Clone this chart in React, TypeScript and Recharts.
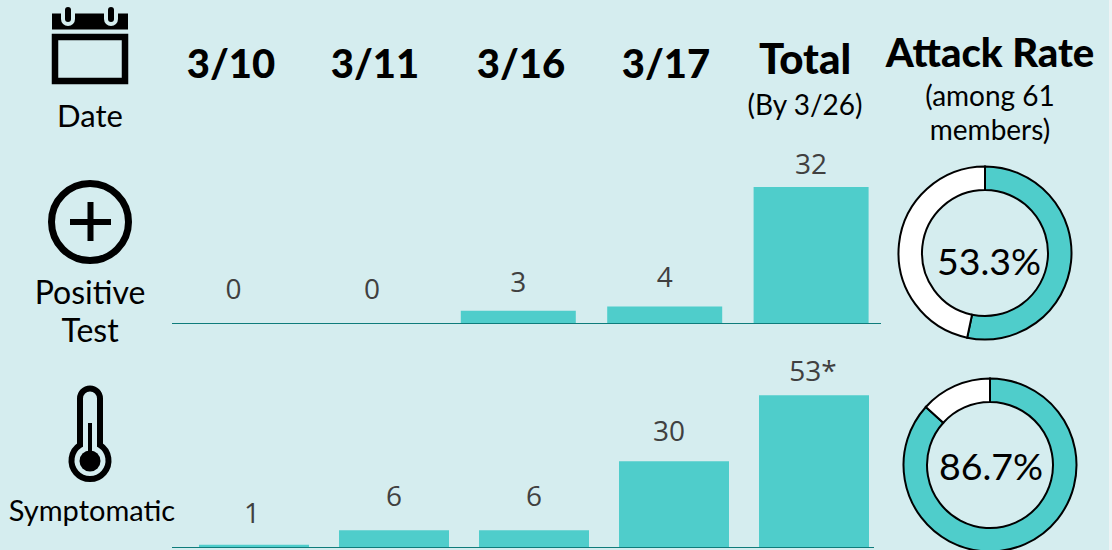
import React from 'react';
import { BarChart, Bar, XAxis, YAxis, LabelList, PieChart, Pie, Cell } from 'recharts';

const dates = ['3/10', '3/11', '3/16', '3/17', 'Total'];
const positiveValues = [0, 0, 3, 4, 32];
const positiveLabels = ['0', '0', '3', '4', '32'];
const symptomValues = [1, 6, 6, 30, 53];
const symptomLabels = ['1', '6', '6', '30', '53*'];
const positiveRate = [53.3, 46.7];
const symptomRate = [86.7, 13.3];

const TEAL = '#4FCDCB';
const BG = '#D5EDEF';
const HEAD_FONT = 'Lato, sans-serif';
const NUM_FONT = '"Open Sans", sans-serif';

const headerX = [231, 375, 521, 666, 805];
const positiveNudge = [[8, 35], [0, 35], [0, 30], [0, 30], [0, 24]];
const symptomNudge = [[-2, 33], [0, 35], [0, 35], [-5, 31], [-1, 25]];

const toRows = (values: number[]) => dates.map((name, i) => ({ name, value: values[i] }));

const makeLabel = (labels: string[], nudge: number[][]) => (props: any) => {
  const { x, y, width, index } = props;
  return (
    <text
      x={x + width / 2 + nudge[index][0]}
      y={y - nudge[index][1]}
      textAnchor="middle"
      dominantBaseline="central"
      fontFamily={NUM_FONT}
      fontSize={28}
      fill="#404040"
    >
      {labels[index]}
    </text>
  );
};

const Txt: React.FC<{ x: number; y: number; size: number; weight?: number; children: React.ReactNode }> = ({ x, y, size, weight = 400, children }) => (
  <div
    style={{
      position: 'absolute',
      left: x - 150,
      top: y - 30,
      width: 300,
      height: 60,
      lineHeight: '60px',
      textAlign: 'center',
      fontFamily: HEAD_FONT,
      fontSize: size,
      fontWeight: weight,
      color: '#000',
      whiteSpace: 'nowrap',
    }}
  >
    {children}
  </div>
);

const Icons = () => (
  <svg width={180} height={550} style={{ position: 'absolute', left: 0, top: 0 }}>
    {/* calendar */}
    <path d="M52 13.5H128V29.5H52Z" fill="#000" />
    <rect x={55} y={37} width={70} height={44} fill="none" stroke="#000" strokeWidth={6.5} />
    <rect x={61} y={4} width={14} height={22} rx={7} fill={BG} />
    <rect x={104} y={4} width={14} height={22} rx={7} fill={BG} />
    <rect x={65} y={7} width={6} height={15} rx={3} fill="#000" />
    <rect x={108} y={7} width={6} height={15} rx={3} fill="#000" />
    {/* plus */}
    <circle cx={90} cy={222} r={38.5} fill="none" stroke="#000" strokeWidth={7} />
    <path d="M70 222H111M90.5 202V241" stroke="#000" strokeWidth={6} fill="none" />
    {/* thermometer */}
    <path
      d="M80 445V398.5A10 10 0 0 1 100 398.5V445A18.5 18.5 0 1 1 80 445Z"
      fill="none"
      stroke="#000"
      strokeWidth={6}
    />
    <circle cx={90} cy={461} r={10.5} fill="#000" />
    <rect x={88} y={423} width={4} height={30} fill="#000" />
  </svg>
);

const Donut: React.FC<{ left: number; top: number; values: number[]; colors: string[]; text: string; textX: number; textY: number }> = ({ left, top, values, colors, text, textX, textY }) => (
  <div style={{ position: 'absolute', left, top }}>
    <PieChart width={190} height={195} margin={{ top: 0, right: 0, bottom: 0, left: 0 }}>
      <Pie
        data={values.map((value, i) => ({ name: String(i), value }))}
        dataKey="value"
        cx={95}
        cy={98}
        innerRadius={63}
        outerRadius={86.5}
        startAngle={90}
        endAngle={-270}
        stroke="#000"
        strokeWidth={2}
        isAnimationActive={false}
      >
        {values.map((_, i) => (
          <Cell key={i} fill={colors[i]} />
        ))}
      </Pie>
      <text x={textX} y={textY} textAnchor="middle" dominantBaseline="central" fontFamily={HEAD_FONT} fontSize={37.5} fill="#000">
        {text}
      </text>
    </PieChart>
  </div>
);

export default function App() {
  return (
    <div style={{ position: 'fixed', left: 0, top: 0, width: 1112, height: 550, overflow: 'hidden', background: '#EEF3F4' }}>
      <div style={{ position: 'absolute', left: 0, top: 0, width: 1109, height: 550, background: BG }} />
      <Icons />

      <Txt x={90} y={115} size={31}>Date</Txt>
      <Txt x={90} y={292} size={32}>Positive</Txt>
      <Txt x={90} y={330} size={32}>Test</Txt>
      <Txt x={92} y={510} size={29}>Symptomatic</Txt>

      {dates.map((d, i) => (
        <Txt key={d} x={headerX[i]} y={i === 4 ? 58 : 63} size={i === 4 ? 42 : 40} weight={900}>{d}</Txt>
      ))}
      <Txt x={805} y={104} size={28}>(By 3/26)</Txt>
      <Txt x={990} y={52} size={40} weight={900}>Attack Rate</Txt>
      <Txt x={990} y={95} size={28}>(among 61</Txt>
      <Txt x={990} y={129} size={28}>members)</Txt>

      <div style={{ position: 'absolute', left: 0, top: 140 }}>
        <BarChart
          width={900}
          height={190}
          data={toRows(positiveValues)}
          margin={{ top: 13, right: 19, bottom: 5.5, left: 172 }}
        >
          <XAxis dataKey="name" tick={false} tickLine={false} height={1} stroke="#0E7C7B" padding={{ left: -20, right: -3 }} />
          <YAxis hide domain={[0, 40]} />
          <Bar dataKey="value" fill={TEAL} barSize={115} minPointSize={0.1} isAnimationActive={false}>
            <LabelList dataKey="value" content={makeLabel(positiveLabels, positiveNudge)} />
          </Bar>
        </BarChart>
      </div>

      <div style={{ position: 'absolute', left: 0, top: 350 }}>
        <BarChart
          width={900}
          height={200}
          data={toRows(symptomValues)}
          margin={{ top: 25, right: 26, bottom: 1.5, left: 172 }}
        >
          <XAxis dataKey="name" tick={false} tickLine={false} height={1} stroke="#0E7C7B" padding={{ left: 12, right: -10 }} />
          <YAxis hide domain={[0, 60]} />
          <Bar dataKey="value" fill={TEAL} barSize={110} isAnimationActive={false}>
            <LabelList dataKey="value" content={makeLabel(symptomLabels, symptomNudge)} />
          </Bar>
        </BarChart>
      </div>

      <Donut left={890} top={155} values={positiveRate} colors={[TEAL, '#FFFFFF']} text="53.3%" textX={99} textY={105} />
      <Donut left={895} top={367} values={symptomRate} colors={[TEAL, '#FFFFFF']} text="86.7%" textX={96} textY={98} />
    </div>
  );
}
